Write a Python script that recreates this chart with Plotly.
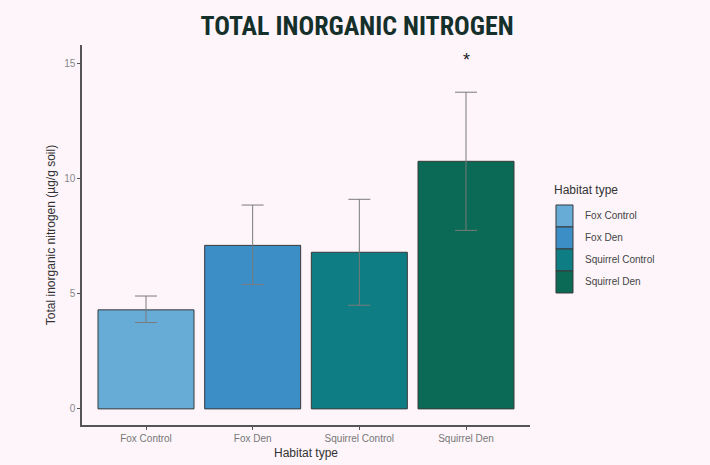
import plotly.graph_objects as go

categories = ["Fox Control", "Fox Den", "Squirrel Control", "Squirrel Den"]
means = [4.3, 7.1, 6.8, 10.75]
err_upper = [0.6, 1.75, 2.3, 3.0]
err_lower = [0.55, 1.7, 2.3, 3.0]
colors = ["#67acd6", "#3b8fc6", "#0e7e84", "#0a6a55"]
sig_labels = ["", "", "", "*"]
sig_y = 15.15
y_ticks = [0, 5, 10, 15]

fig = go.Figure()
fig.add_trace(go.Bar(
    x=categories, y=means,
    marker=dict(color=colors, line=dict(color="#3a3a3a", width=1)),
    width=0.9,
    error_y=dict(type="data", symmetric=False, array=err_upper, arrayminus=err_lower,
                 color="#7a7a7a", thickness=1, width=11),
    showlegend=False,
))

for c, s in zip(categories, sig_labels):
    if s:
        fig.add_annotation(x=c, y=sig_y, text=s, showarrow=False,
                           font=dict(size=18, color="#222", family="Liberation Sans"))

# manual legend
fig.add_annotation(xref="paper", yref="paper", x=1.048, y=0.618, xanchor="left", yanchor="middle",
                   text="Habitat type", showarrow=False,
                   font=dict(size=12, color="#333", family="Liberation Sans"))
leg_top = 0.579
step = 0.0579
for i, (c, col) in enumerate(zip(categories, colors)):
    y1 = leg_top - i * step
    y0 = y1 - step
    fig.add_shape(type="rect", xref="paper", yref="paper", x0=1.058, x1=1.096, y0=y0, y1=y1,
                  fillcolor=col, line=dict(color="#3a3a3a", width=1))
    fig.add_annotation(xref="paper", yref="paper", x=1.118, y=(y0 + y1) / 2, xanchor="left",
                       yanchor="middle", text=c, showarrow=False,
                       font=dict(size=10, color="#444", family="Liberation Sans"))

fig.update_layout(
    width=710, height=465,
    paper_bgcolor="#fdf5fa", plot_bgcolor="#fdf5fa",
    margin=dict(l=82, r=180, t=45, b=40, autoexpand=False),
    title=dict(text="TOTAL INORGANIC NITROGEN", x=0.503, xanchor="center", y=0.944, yanchor="middle",
               font=dict(size=26, color="#15302a", family="Roboto Condensed, Roboto", weight="bold")),
    font=dict(family="Liberation Sans"),
)
fig.update_xaxes(
    range=[-0.6, 3.6], showline=True, linecolor="#555", linewidth=1.5,
    ticks="outside", ticklen=3, tickcolor="#555", automargin=False,
    tickfont=dict(size=10, color="#777"), showgrid=False, zeroline=False,
    title=dict(text="Habitat type", font=dict(size=12, color="#333"), standoff=6),
)
fig.update_yaxes(
    range=[-0.7, 15.8], tickvals=y_ticks, showline=True, linecolor="#555", linewidth=1.5,
    ticks="outside", ticklen=3, tickcolor="#555", automargin=False,
    tickfont=dict(size=10, color="#888"), showgrid=False, zeroline=False,
    title=dict(text="Total inorganic nitrogen (µg/g soil)", font=dict(size=12, color="#333"), standoff=6),
)

fig.write_html("out.html", config={"displayModeBar": False},
               post_script="document.body.style.margin='0';document.body.style.background='#fdf5fa';")
